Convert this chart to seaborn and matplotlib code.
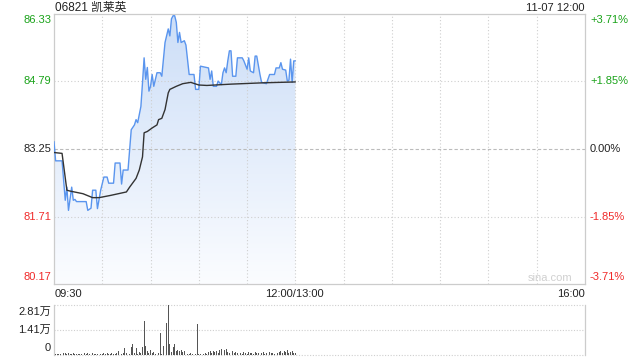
import numpy as np
import pandas as pd
import matplotlib
matplotlib.use("Agg")
import matplotlib.pyplot as plt
import seaborn as sns
from matplotlib.colors import LinearSegmentedColormap
from matplotlib.transforms import blended_transform_factory

sns.set_theme(style="white")
plt.rcParams["font.family"] = ["Liberation Sans", "Noto Sans CJK SC", "DejaVu Sans"]

# ---------------- data ----------------
title_left = "06821 凯莱英"
title_right = "11-07 12:00"
prev_close = 83.25
price_ticks = [80.17, 81.71, 83.25, 84.79, 86.33]
price_tick_labels = ["80.17", "81.71", "83.25", "84.79", "86.33"]
pct_labels = ["-3.71%", "-1.85%", "0.00%", "+1.85%", "+3.71%"]
x_tick_pos = [0, 150, 330]
x_tick_labels = ["09:30", "12:00/13:00", "16:00"]

# minutes since 09:30 (trading minutes) and price
price_min = [0, 1, 5, 7, 8, 9, 11, 12, 13, 14, 20, 21, 23, 24, 26, 27, 29, 31, 33, 34,
             37, 38, 41, 42, 43, 46, 48, 50, 51, 52, 54, 55, 56, 57, 58, 59, 60, 61, 62, 64,
             66, 67, 69, 71, 72, 73, 74, 75, 76, 77, 78, 79, 81, 82, 84, 87, 88, 90, 91, 96,
             97, 98, 99, 101, 102, 104, 105, 106, 107, 108, 109, 110, 111, 113, 114, 117, 118, 120, 121, 122,
             124, 125, 126, 128, 129, 132, 134, 137, 138, 140, 141, 142, 144, 145, 146, 147, 148, 149, 150]
price_val = [83.42, 82.98, 82.98, 82.08, 82.38, 81.85, 82.38, 82.08, 82.10, 82.05, 82.05, 81.85, 81.90, 82.31, 82.31, 81.89, 82.31, 82.61, 82.61, 82.47,
             82.47, 82.93, 82.93, 82.45, 82.77, 82.77, 83.69, 83.80, 83.92, 83.85, 84.22, 84.76, 85.33, 84.84, 85.11, 84.57, 84.68, 84.95, 84.68, 84.99,
             84.99, 84.91, 85.68, 85.99, 85.83, 86.22, 86.29, 86.29, 86.14, 85.68, 85.91, 85.68, 85.72, 85.62, 84.95, 84.95, 84.61, 84.61, 85.14, 85.10,
             84.84, 85.03, 84.68, 84.68, 84.80, 84.72, 84.99, 85.10, 84.99, 85.26, 85.49, 85.49, 84.91, 84.91, 85.33, 85.33, 85.26, 85.07, 85.33, 85.03,
             84.99, 85.37, 85.37, 84.95, 84.77, 84.74, 84.95, 84.95, 85.10, 85.10, 85.22, 85.07, 85.05, 84.80, 84.82, 85.30, 84.77, 85.26, 85.26]

avg_min = [0, 5, 8, 10, 18, 24, 28, 35, 45, 47, 51, 53, 55, 56, 58, 61, 64, 65, 67, 69,
           71, 72, 76, 80, 85, 90, 95, 110, 130, 150]
avg_val = [83.17, 83.15, 82.31, 82.29, 82.23, 82.14, 82.14, 82.19, 82.27, 82.38, 82.58, 82.77, 83.07, 83.62, 83.65, 83.73, 83.80, 83.92, 83.95, 84.15,
           84.53, 84.61, 84.68, 84.74, 84.77, 84.71, 84.70, 84.73, 84.76, 84.78]

volume = [900, 600, 500, 700, 400, 600, 1200, 1400, 800, 1300,
          700, 500, 900, 400, 600, 500, 700, 800, 5600, 1200,
          600, 1000, 500, 700, 900, 400, 800, 600, 1000, 700,
          500, 900, 700, 1100, 600, 800, 1400, 500, 700, 900,
          2000, 800, 600, 1200, 3700, 900, 1500, 700, 4600, 6000,
          1200, 4000, 800, 1500, 900, 4500, 19100, 5200, 2500, 1100,
          3000, 900, 1800, 600, 2200, 1400, 12200, 700, 5000, 2800,
          17800, 28100, 6200, 1800, 4600, 6200, 2100, 3000, 2400, 2800,
          1800, 2200, 1500, 700, 400, 1100, 600, 900, 500, 17400,
          700, 800, 10300, 600, 1200, 800, 1500, 2200, 1300, 2000,
          1700, 2400, 1400, 2600, 3200, 1800, 2900, 3500, 1600, 1400,
          5200, 2000, 1200, 1800, 900, 1500, 1300, 800, 1700, 1000,
          600, 1800, 1000, 1400, 700, 1600, 900, 1300, 800, 1100,
          1500, 700, 1200, 900, 1600, 1000, 1400, 800, 3400, 1200,
          1700, 2000, 900, 2200, 1500, 2600, 1100, 1800, 2400, 1300,
          900]
vol_ticks = [0, 14100, 28100]
vol_tick_labels = ["0", "1.41万", "2.81万"]

# ---------------- style ----------------
GREEN = "#1aa31a"
RED = "#f02a2a"
BLACK = "#222222"
GRID = "#cfcfcf"
SPINE = "#cccccc"
LINE_BLUE = "#5a95ee"
label_colors = [RED, RED, BLACK, GREEN, GREEN]

fig = plt.figure(figsize=(6.4, 3.6), dpi=100)
ax = fig.add_axes([54 / 640, 1 - 284 / 360, 531 / 640, 270 / 360])
axv = fig.add_axes([54 / 640, 1 - 355 / 360, 531 / 640, 50 / 360])

ymin, ymax = price_ticks[0], price_ticks[-1]
ax.set_xlim(0, 330)
ax.set_ylim(ymin, ymax)

# gradient fill under the price line
fill = ax.fill_between(price_min, price_val, ymin, color="none", lw=0)
cmap = LinearSegmentedColormap.from_list("g", [(0.985, 0.99, 1.0), (0.80, 0.87, 0.97)])
grad = np.linspace(0, 1, 256).reshape(-1, 1)
img = ax.imshow(grad, cmap=cmap, origin="lower", aspect="auto",
                extent=[0, 150, ymin, ymax], zorder=1)
img.set_clip_path(fill.get_paths()[0], transform=ax.transData)

df_p = pd.DataFrame({"m": price_min, "p": price_val})
df_a = pd.DataFrame({"m": avg_min, "p": avg_val})
sns.lineplot(data=df_p, x="m", y="p", ax=ax, color=LINE_BLUE, lw=1.0, zorder=4)
sns.lineplot(data=df_a, x="m", y="p", ax=ax, color="#333333", lw=1.0, zorder=5)

# grid
for i, t in enumerate(price_ticks):
    if t == prev_close:
        ax.axhline(t, color="#bbbbbb", lw=0.8, ls=(0, (3, 2)), zorder=2)
    elif 0 < i < len(price_ticks) - 1:
        ax.axhline(t, color=GRID, lw=0.8, ls=(0, (1, 2)), zorder=2)
for xv in range(30, 330, 30):
    ax.axvline(xv, color=GRID, lw=0.8, ls=(0, (1, 2)), zorder=2)

for s in ax.spines.values():
    s.set_color(SPINE)
    s.set_linewidth(0.9)

ax.set_xlabel("")
ax.set_ylabel("")
ax.set_xticks([])
ax.set_yticks([])

tl = blended_transform_factory(fig.transFigure, ax.transData)
for i, (t, lab) in enumerate(zip(price_ticks, price_tick_labels)):
    va = "bottom" if i == 0 else ("top" if i == len(price_ticks) - 1 else "center")
    off = 0.6 if i == 0 else (-0.6 if i == len(price_ticks) - 1 else 0)
    ax.text(51 / 640, t, lab, transform=tl, ha="right", va="center",
            fontsize=8, color=label_colors[i])
    ax.text(590 / 640, t, pct_labels[i], transform=tl, ha="left", va="center",
            fontsize=8, color=label_colors[i])

# fix edge label placement (inside the axes)
for txt in ax.texts:
    pass

# x labels
fig.text(55 / 640, 1 - 294 / 360, x_tick_labels[0], ha="left", va="center", fontsize=8, color=BLACK)
fig.text(294 / 640, 1 - 294 / 360, x_tick_labels[1], ha="center", va="center", fontsize=8, color=BLACK)
fig.text(585 / 640, 1 - 294 / 360, x_tick_labels[2], ha="right", va="center", fontsize=8, color=BLACK)

# titles
fig.text(55 / 640, 1 - 7.5 / 360, title_left, ha="left", va="center", fontsize=8.5, color=BLACK)
fig.text(584 / 640, 1 - 8 / 360, title_right, ha="right", va="center", fontsize=8, color=BLACK)

# watermark
fig.text(572 / 640, 1 - 278 / 360, "sina.com", ha="right", va="center", fontsize=8, color="#d0d0d0")

# ---------------- volume ----------------
axv.set_xlim(0, 330)
axv.set_ylim(0, vol_ticks[-1])
vm = np.arange(len(volume))
axv.bar(vm, volume, width=0.55, color="#555555", lw=0, zorder=3)
for t in vol_ticks:
    axv.axhline(t, color=GRID, lw=0.8, ls=(0, (1, 1.5)), zorder=1, clip_on=False)
for side in ["top", "bottom"]:
    axv.spines[side].set_visible(False)
for side in ["left", "right"]:
    axv.spines[side].set_color(SPINE)
    axv.spines[side].set_linewidth(0.9)
axv.set_xticks([])
axv.set_yticks([])
tv = blended_transform_factory(fig.transFigure, fig.transFigure)
fig.text(51 / 640, 1 - 312 / 360, vol_tick_labels[2], ha="right", va="center", fontsize=8, color=BLACK)
fig.text(51 / 640, 1 - 330 / 360, vol_tick_labels[1], ha="right", va="center", fontsize=8, color=BLACK)
fig.text(51 / 640, 1 - 348 / 360, vol_tick_labels[0], ha="right", va="center", fontsize=8, color=BLACK)

# reposition edge price labels
for txt in ax.texts:
    if txt.get_text() in ("86.33", "+3.71%"):
        txt.set_y(ymax - (ymax - ymin) * 6 / 270)
    if txt.get_text() in ("80.17", "-3.71%"):
        txt.set_y(ymin + (ymax - ymin) * 7 / 270)

fig.savefig("out.png", dpi=100)
